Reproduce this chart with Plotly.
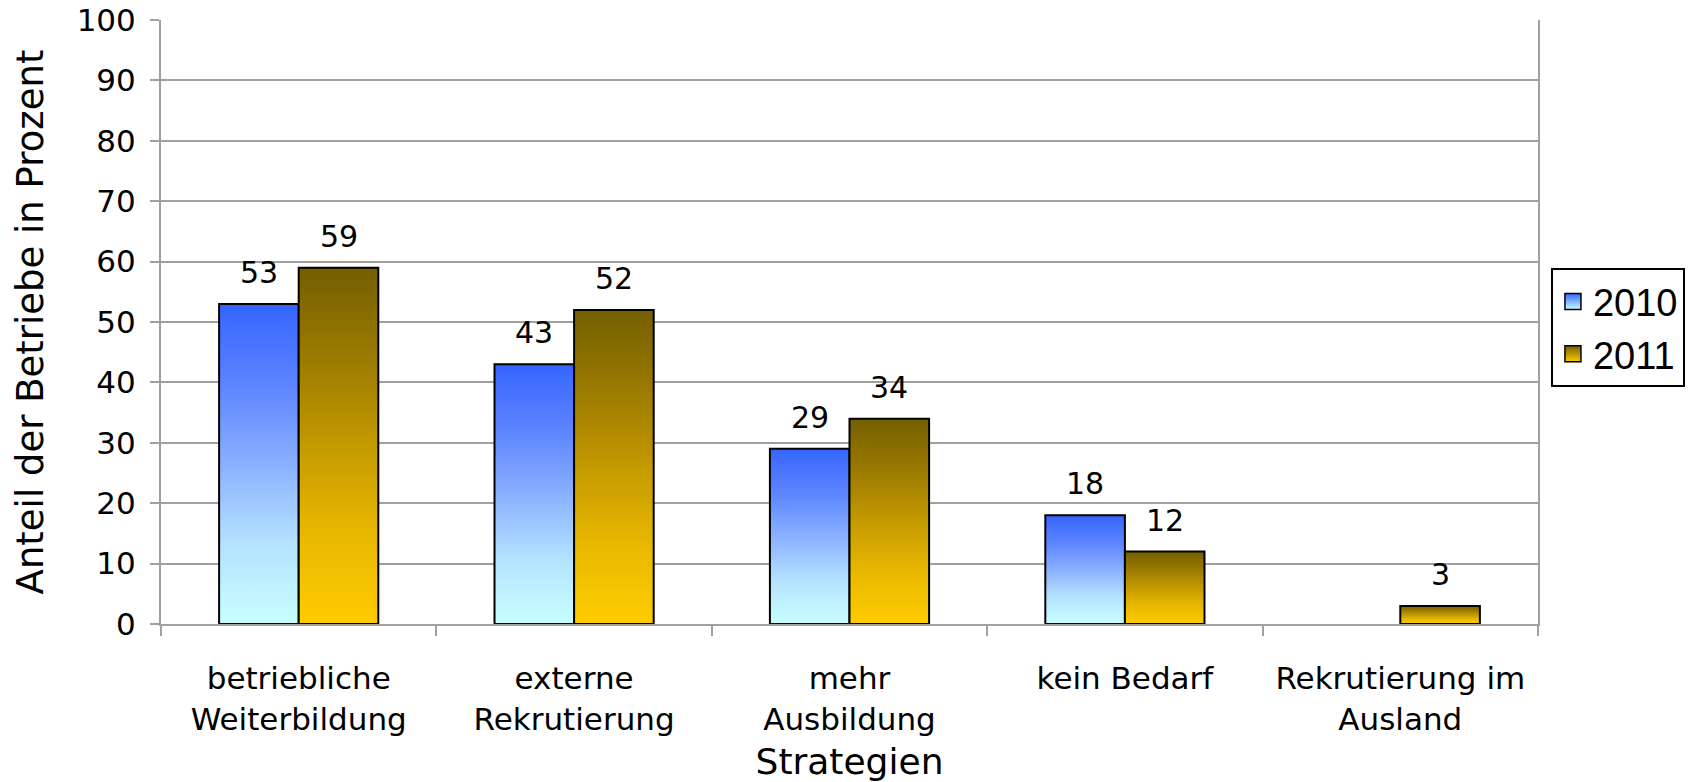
import plotly.graph_objects as go

# Strategies (x categories) and survey shares per year, in percent
categories = [
    "betriebliche<br>Weiterbildung",
    "externe<br>Rekrutierung",
    "mehr<br>Ausbildung",
    "kein Bedarf",
    "Rekrutierung im<br>Ausland",
]
years = ["2010", "2011"]
values_2010 = [53, 43, 29, 18, None]
values_2011 = [59, 52, 34, 12, 3]
y_ticks = list(range(0, 101, 10))

# vertical gradients (0 = bar foot, 1 = bar top)
scale_2010 = [[0.0, "#c8ffff"], [0.25, "#b4e2ff"], [0.5, "#8ab0ff"],
              [0.75, "#5c84ff"], [1.0, "#3565ff"]]
scale_2011 = [[0.0, "#ffcc00"], [0.25, "#e8b800"], [0.5, "#c49a00"],
              [0.75, "#9a7a00"], [1.0, "#745f00"]]

GROUP_WIDTH = 0.578          # share of each category slot used by the bar pair
BAR_W = GROUP_WIDTH / 2
FONT = "DejaVu Sans"
GRID = "#a0a0a0"

fig = go.Figure()
annotations = []

series = [
    (years[0], values_2010, scale_2010, -1),
    (years[1], values_2011, scale_2011, 0),
]
for name, vals, cscale, offset in series:
    for i, v in enumerate(vals):
        if v is None:
            continue
        left = i + offset * BAR_W
        right = left + BAR_W
        fig.add_trace(go.Scatter(
            x=[left, left, right, right, left],
            y=[0, v, v, 0, 0],
            mode="lines",
            fill="toself",
            fillgradient=dict(type="vertical", colorscale=cscale),
            line=dict(color="black", width=2),
            name=name,
            legendgroup=name,
            showlegend=False,
            hovertemplate=f"{name}: {v}<extra></extra>",
        ))
        annotations.append(dict(
            x=(left + right) / 2, y=v, xref="x", yref="y",
            text=str(v), showarrow=False, yanchor="bottom", yshift=12,
            font=dict(family=FONT, size=30, color="black"),
        ))
    # legend key: gradient square
    fig.add_trace(go.Scatter(
        x=[None], y=[None], mode="markers", name=name, legendgroup=name,
        marker=dict(symbol="square", size=16, color=cscale[-1][1],
                    gradient=dict(type="vertical", color=cscale[0][1]),
                    line=dict(color="black", width=1.5)),
    ))

fig.update_layout(
    width=1690, height=782,
    margin=dict(l=161, r=152, t=20, b=158, autoexpand=False),
    paper_bgcolor="white", plot_bgcolor="white",
    annotations=annotations,
    showlegend=True,
    legend=dict(
        x=1.0094, y=0.589, xanchor="left", yanchor="top",
        bordercolor="black", borderwidth=2, bgcolor="white",
        font=dict(family="Liberation Sans", size=38, color="black"),
        itemwidth=30, tracegroupgap=0,
    ),
    xaxis=dict(
        range=[-0.5, 4.5],
        tickvals=list(range(len(categories))),
        ticktext=categories,
        ticks="",
        automargin=False,
        showgrid=False, zeroline=False,
        showline=True, linecolor=GRID, linewidth=2,
        tickfont=dict(family=FONT, size=31, color="black"),
        ticklabelstandoff=26,
        minor=dict(ticks="outside", ticklen=10, tickwidth=2, tickcolor=GRID,
                   tick0=0.5, dtick=1, showgrid=False),
        title=dict(text="Strategien", standoff=16,
                   font=dict(family=FONT, size=36, color="black")),
    ),
    yaxis=dict(
        range=[0, 100],
        tickvals=y_ticks,
        automargin=False,
        ticks="outside", ticklen=9, tickwidth=2, tickcolor=GRID,
        showgrid=True, gridcolor=GRID, gridwidth=2,
        zeroline=False,
        showline=True, mirror=True, linecolor=GRID, linewidth=2,
        tickfont=dict(family=FONT, size=31, color="black"),
        ticklabelstandoff=8,
        title=dict(text="Anteil der Betriebe in Prozent", standoff=22,
                   font=dict(family=FONT, size=37, color="black")),
    ),
)

fig.write_html("out.html")
